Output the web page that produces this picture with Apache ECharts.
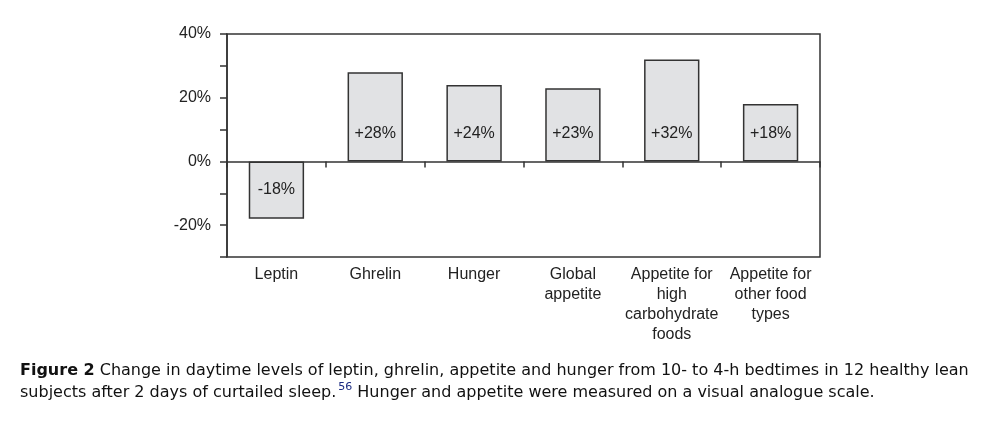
<!DOCTYPE html>
<html>
<head>
<meta charset="utf-8">
<script src="https://cdn.jsdelivr.net/npm/echarts@6/dist/echarts.min.js"></script>
<style>
html,body{margin:0;padding:0;background:#fff;}
#chart{width:993px;height:425px;}
</style>
</head>
<body>
<div id="chart"></div>
<script>
const categories = ['Leptin', 'Ghrelin', 'Hunger', 'Global\nappetite', 'Appetite for\nhigh\ncarbohydrate\nfoods', 'Appetite for\nother food\ntypes'];
const values = [-18, 28, 24, 23, 32, 18];
const yTickValues = [-20, 0, 20, 40];

const chart = echarts.init(document.getElementById('chart'));
const labelFont = {fontFamily: '"Liberation Sans", Arial, sans-serif', fontSize: 16, color: '#222', fontWeight: 'normal'};

chart.setOption({
  animation: false,
  title: {
    left: 15,
    top: 355,
    text: '{b|Figure 2} {n|Change in daytime levels of leptin, ghrelin, appetite and hunger from 10- to 4-h bedtimes in 12 healthy lean}\n{n|subjects after 2 days of curtailed sleep.}{sup|56}{n| Hunger and appetite were measured on a visual analogue scale.}',
    textStyle: {
      fontWeight: 'normal',
      rich: {
        b: {fontFamily: 'DejaVu Sans', fontWeight: 'bold', fontSize: 16, color: '#111', lineHeight: 22},
        n: {fontFamily: 'DejaVu Sans', fontWeight: 'normal', fontSize: 16, color: '#111', lineHeight: 22},
        sup: {fontFamily: 'DejaVu Sans', fontWeight: 'normal', fontSize: 11, color: '#1a2a80', lineHeight: 14, verticalAlign: 'top', padding: [0, 0, 0, 2]}
      }
    }
  },
  grid: {
    left: 227, right: 173, top: 34, height: 223,
    show: true, borderColor: '#333', borderWidth: 1.5, backgroundColor: 'transparent'
  },
  xAxis: [
    {
      type: 'category',
      data: categories,
      axisLine: {onZero: true, lineStyle: {color: '#333', width: 1.5}},
      axisTick: {show: true, alignWithLabel: false, length: 6, lineStyle: {color: '#333', width: 1.5}},
      axisLabel: {show: false}
    },
    {
      type: 'category',
      data: categories,
      position: 'bottom',
      axisLine: {show: false, onZero: false},
      axisTick: {show: false},
      axisLabel: Object.assign({margin: 8, lineHeight: 20, interval: 0}, labelFont)
    }
  ],
  yAxis: {
    type: 'value',
    min: -30, max: 40, interval: 10,
    splitLine: {show: false},
    axisLine: {show: true, lineStyle: {color: '#333', width: 1.5}},
    axisTick: {show: true, length: 7, lineStyle: {color: '#333', width: 1.5}},
    axisLabel: Object.assign({
      margin: 16,
      formatter: function (v) { return yTickValues.indexOf(v) >= 0 ? v + '%' : ''; }
    }, labelFont)
  },
  series: [{
    type: 'bar',
    xAxisIndex: 0,
    barWidth: '56%',
    data: values.map(function (v) {
      return {
        value: v,
        label: {position: v < 0 ? 'insideTop' : 'insideBottom'}
      };
    }),
    itemStyle: {color: '#e1e2e4', borderColor: '#333', borderWidth: 1.5},
    label: Object.assign({
      show: true, distance: 20,
      formatter: function (p) { return (p.value > 0 ? '+' : '') + p.value + '%'; }
    }, labelFont)
  }]
});
</script>
</body>
</html>
